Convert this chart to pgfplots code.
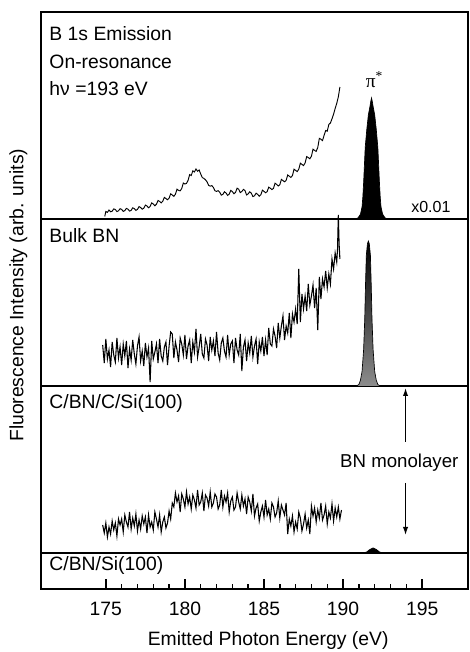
\documentclass[border=0pt]{standalone}
\usepackage{pgfplots}
\pgfplotsset{compat=1.18}
\usepackage{fontspec}
\setmainfont{Liberation Sans}
\usetikzlibrary{arrows.meta}

\newcommand{\labfont}{\fontsize{14.5}{17}\selectfont}
\tikzset{lab/.style={anchor=west, inner sep=0pt, font=\labfont}}

% y is measured in image pixels above the bottom axis line
\begin{document}
\begin{tikzpicture}
\begin{axis}[
  at={(0,0)}, anchor=south west,
  scale only axis, width=320.25pt, height=432.75pt,
  xmin=170.9, xmax=197.9, ymin=0, ymax=577,
  axis line style={line width=1.2pt},
  xtick={175,180,185,190,195}, minor x tick num=4,
  ytick=\empty,
  tick align=inside, xtick pos=bottom,
  major tick length=7.5pt, minor tick length=3.75pt,
  every tick/.style={black, line width=1.1pt},
  /pgf/number format/assume math mode=true,
  xticklabel style={font=\labfont, yshift=-6pt},
  xlabel={Emitted Photon Energy (eV)},
  xlabel style={at={(axis description cs:0.532,-0.0884)}, anchor=center, font=\labfont},
  ylabel={Fluorescence Intensity (arb. units)},
  ylabel style={at={(axis description cs:-0.0527,0.509)}, anchor=center, font=\labfont},
  clip=false,
]

% --- panel separators / baselines ---
\addplot[line width=1.2pt] coordinates {(170.9,370) (197.9,370)};
\addplot[line width=1.2pt] coordinates {(170.9,203) (197.9,203)};
\addplot[line width=1.2pt] coordinates {(170.9,36) (197.9,36)};

% --- B 1s emission, on resonance (top) ---
\addplot[line width=0.7pt] coordinates {
(174.93,372.5) (175.0,377.5) (175.1,376.6) (175.2,379) (175.3,377.2) (175.4,377.8) (175.5,380.1) (175.6,379.5) (175.7,377.4) (175.8,378.2)
(175.9,380.3) (176.0,379.6) (176.1,377.6) (176.2,378.4) (176.3,380.6) (176.4,379.8) (176.5,377.9) (176.6,378.6) (176.7,381.2) (176.8,380.4) (176.9,378.6) (177.0,379.6)
(177.1,382.4) (177.2,381.5) (177.3,379.8) (177.4,380.8) (177.5,383.9) (177.6,383) (177.7,381.2) (177.8,382.6) (177.9,386.1) (178.0,385) (178.1,383.2) (178.2,384.8)
(178.3,388.5) (178.4,387.6) (178.5,386.1) (178.6,387.8) (178.7,391.6) (178.8,390.5) (178.9,389.2) (179.0,390.8) (179.1,395.2) (179.2,394) (179.3,392.6) (179.4,394.8)
(179.5,399.8) (179.6,398.6) (179.7,398.1) (179.8,400.5) (179.9,406) (180.0,405) (180.1,405.6) (180.2,408.6) (180.3,414.4) (180.4,413.5) (180.5,418.2) (180.6,417)
(180.7,420) (180.8,417.8) (180.9,419) (181.0,415) (181.1,411.4) (181.2,410.6) (181.3,409.2) (181.4,407.2) (181.5,403.6) (181.6,402.8) (181.7,403.4)
(181.8,401.6) (181.9,398.2) (182.0,397.6) (182.1,398.4) (182.2,396.8) (182.3,393.8) (182.4,394.6) (182.5,397.2) (182.6,396) (182.7,393.6) (182.8,394.8)
(182.9,398.6) (183.0,397.4) (183.1,395.2) (183.2,396.6) (183.3,400.8) (183.4,399.8) (183.5,396.4) (183.6,397.5) (183.7,399.6) (183.8,398.4) (183.9,394) (184.0,395.2)
(184.1,397.2) (184.2,395.8) (184.3,392.4) (184.4,393.2) (184.5,395.8) (184.6,394.6) (184.7,392.8) (184.8,394.2) (184.9,398.8) (185.0,397.6) (185.1,396.2) (185.2,397.4)
(185.3,401.8) (185.4,400.8) (185.5,399.4) (185.6,400.6) (185.7,405.8) (185.8,404.6) (185.9,403) (186.0,404.2) (186.1,409.6) (186.2,408.4) (186.3,407.2) (186.4,408.6)
(186.5,414) (186.6,412.8) (186.7,411.6) (186.8,413.4) (186.9,419.8) (187.0,418.6) (187.1,417.4) (187.2,419.8) (187.3,425.8) (187.4,424.6) (187.5,423.4) (187.6,426)
(187.7,432.4) (187.8,431.4) (187.9,430.2) (188.0,432.8) (188.1,439.8) (188.2,438.6) (188.3,437.6) (188.4,441.5) (188.5,450.6) (188.6,449.8) (188.7,448.4) (188.8,453.6)
(188.9,458.5) (189.0,457.8) (189.1,464.5) (189.2,466) (189.3,470.2) (189.4,474.8)
(189.5,480.5) (189.6,485.6) (189.7,492) (189.8,502)
};
\addplot[fill=black, draw=black, line width=0.5pt] coordinates {
(190.8,370) (190.95,371.2) (191.1,374.8) (191.2,382.1) (191.25,391.8) (191.3,406.3)
(191.4,441.4) (191.5,459.5) (191.6,474.1) (191.7,482.5) (191.75,487.4) (191.8,491)
(191.85,487.4) (191.9,482.5) (192.0,474.1) (192.1,459.5) (192.2,441.4) (192.3,406.3)
(192.35,391.8) (192.4,382.1) (192.5,374.8) (192.65,371.2) (192.8,370)
};

% --- Bulk BN ---
\addplot[line width=0.8pt] coordinates {
(174.8,244) (174.9,226) (175.0,250) (175.1,230) (175.2,239) (175.3,222) (175.4,247)
(175.5,234) (175.6,227) (175.7,251) (175.8,231) (175.9,242) (176.0,224) (176.1,245)
(176.2,233) (176.3,248) (176.4,221) (176.5,240) (176.6,229) (176.7,249) (176.8,235)
(176.9,225) (177.0,243) (177.1,252) (177.2,228) (177.3,238) (177.4,223) (177.5,246)
(177.6,232) (177.7,241) (177.8,207) (177.9,248) (178.0,230) (178.1,237) (178.2,245)
(178.3,226) (178.4,250) (178.5,233) (178.6,228) (178.7,242) (178.8,247) (178.9,224)
(179.0,243) (179.1,257) (179.2,255) (179.3,231) (179.4,247) (179.5,239) (179.6,227)
(179.7,251) (179.8,245) (179.9,234) (180.0,254) (180.1,230) (180.2,243) (180.3,249)
(180.4,226) (180.5,247) (180.6,237) (180.7,260) (180.8,232) (180.9,242) (181.0,255)
(181.1,235) (181.2,231) (181.3,250) (181.4,244) (181.5,228) (181.6,252) (181.7,239)
(181.8,248) (181.9,233) (182.0,257) (182.1,236) (182.2,229) (182.3,246) (182.4,251)
(182.5,238) (182.6,232) (182.7,254) (182.8,234) (182.9,245) (183.0,248) (183.1,226)
(183.2,251) (183.3,239) (183.4,234) (183.5,255) (183.6,218) (183.7,242) (183.8,249)
(183.9,228) (184.0,246) (184.1,236) (184.2,253) (184.3,232) (184.4,243) (184.5,250)
(184.6,225) (184.7,247) (184.8,238) (184.9,252) (185.0,233) (185.1,249) (185.2,234)
(185.3,261) (185.4,245) (185.5,243) (185.6,260) (185.7,253) (185.8,241) (185.9,266)
(186.0,251) (186.1,263) (186.2,273) (186.3,249) (186.4,263) (186.5,256) (186.6,276)
(186.7,251) (186.8,275) (186.9,267) (187.0,280) (187.1,265) (187.2,320) (187.3,267)
(187.4,295) (187.5,280) (187.6,293) (187.7,278) (187.8,305) (187.9,284) (188.0,293)
(188.1,304) (188.2,281) (188.3,301) (188.4,259) (188.5,312) (188.6,290) (188.7,310)
(188.8,302) (188.9,318) (189.0,301) (189.1,315) (189.2,305) (189.3,330) (189.4,320)
(189.5,336) (189.6,327) (189.65,340) (189.7,374) (189.75,345) (189.8,330)
};
\addplot[draw=black, line width=0.5pt, top color=black, middle color=black!75, bottom color=black!45] coordinates {
(190.85,203) (191.0,204.5) (191.1,208.8) (191.2,217.5) (191.3,239.3) (191.37,269.7)
(191.42,304.5) (191.47,333.5) (191.54,345.1) (191.6,348) (191.66,345.1) (191.73,333.5)
(191.78,304.5) (191.83,269.7) (191.9,239.3) (192.0,217.5) (192.1,208.8) (192.2,204.5)
(192.35,203)
};

% --- C/BN/C/Si(100) ---
\addplot[line width=0.8pt] coordinates {
(174.8,64) (174.9,56) (175.0,66) (175.1,52) (175.2,62) (175.3,55) (175.4,68) (175.5,59)
(175.6,66) (175.7,53) (175.8,70) (175.9,64) (176.0,70) (176.1,57) (176.2,74) (176.3,67)
(176.4,62) (176.5,77) (176.6,60) (176.7,71) (176.8,63) (176.9,75) (177.0,58) (177.1,69)
(177.2,60) (177.3,73) (177.4,65) (177.5,72) (177.6,56) (177.7,74) (177.8,62) (177.9,67)
(178.0,59) (178.1,77) (178.2,70) (178.3,62) (178.4,74) (178.5,57) (178.6,67) (178.7,72)
(178.8,61) (178.9,66) (179.0,78) (179.1,70) (179.2,86) (179.3,82) (179.4,96) (179.5,87)
(179.6,93) (179.7,77) (179.8,95) (179.9,90) (180.0,82) (180.1,97) (180.2,85) (180.3,92)
(180.4,80) (180.5,94) (180.6,89) (180.7,81) (180.8,99) (180.9,84) (181.0,87) (181.1,96)
(181.2,78) (181.3,94) (181.4,91) (181.5,83) (181.6,97) (181.7,82) (181.8,86) (181.9,95)
(182.0,92) (182.1,80) (182.2,84) (182.3,99) (182.4,82) (182.5,93) (182.6,87) (182.7,96)
(182.8,77) (182.9,88) (183.0,92) (183.1,79) (183.2,82) (183.3,96) (183.4,87) (183.5,80)
(183.6,94) (183.7,83) (183.8,90) (183.9,75) (184.0,92) (184.1,87) (184.2,78) (184.3,95)
(184.4,73) (184.5,81) (184.6,85) (184.7,68) (184.8,77) (184.9,83) (185.0,72) (185.1,89)
(185.2,74) (185.3,80) (185.4,70) (185.5,86) (185.6,82) (185.7,72) (185.8,76) (185.9,88)
(186.0,71) (186.1,84) (186.2,79) (186.3,74) (186.4,86) (186.5,55) (186.6,70) (186.7,63)
(186.8,73) (186.9,57) (187.0,67) (187.1,60) (187.2,77) (187.3,71) (187.4,58) (187.5,65)
(187.6,75) (187.7,61) (187.8,69) (187.9,55) (188.0,83) (188.1,73) (188.2,81) (188.3,67)
(188.4,79) (188.5,71) (188.6,86) (188.7,69) (188.8,74) (188.9,83) (189.0,65) (189.1,77)
(189.2,71) (189.3,85) (189.4,68) (189.5,81) (189.6,72) (189.7,82) (189.8,70) (189.9,79)
};

% --- C/BN/Si(100): small pi* bump on the bottom baseline ---
\addplot[fill=black, draw=black, line width=0.6pt] coordinates {
(191.3,36) (191.5,37) (191.7,39.5) (191.9,41) (192.1,39.5) (192.3,37) (192.5,36)
};

% --- annotations ---
\node[lab] at (axis cs:171.42,555) {B 1s Emission};
\node[lab] at (axis cs:171.42,527) {On-resonance};
\node[lab] at (axis cs:171.42,500) {hν =193 eV};
\node[anchor=base, inner sep=0pt, font=\labfont] at (axis cs:191.98,501.7) {\fontspec{Liberation Serif}π\textsuperscript{*}};
\node[lab, font=\fontsize{12}{14}\selectfont] at (axis cs:194.3,381.8) {x0.01};
\node[lab] at (axis cs:171.42,353.5) {Bulk BN};
\node[lab] at (axis cs:171.42,185.3) {C/BN/C/Si(100)};
\node[lab] at (axis cs:171.42,23.5) {C/BN/Si(100)};
\node[lab, font=\fontsize{14}{16}\selectfont] at (axis cs:189.8,126) {BN monolayer};
\draw[line width=0.9pt, -{Latex[length=6pt,width=4pt]}] (axis cs:193.95,147) -- (axis cs:193.95,201);
\draw[line width=0.9pt, -{Latex[length=6pt,width=4pt]}] (axis cs:193.95,106) -- (axis cs:193.95,54);
\end{axis}
\pgfresetboundingbox
\path[use as bounding box] (-30.75pt,-47.25pt) rectangle (321pt,441.75pt);
\end{tikzpicture}
\end{document}
